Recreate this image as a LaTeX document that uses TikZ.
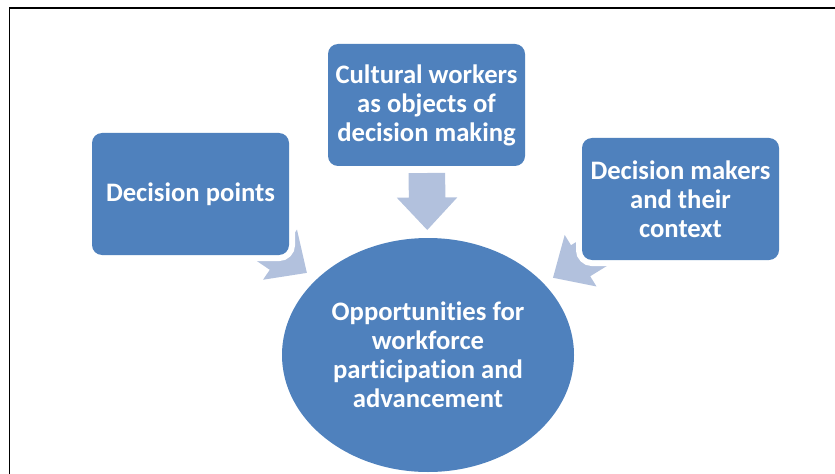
\documentclass[tikz,border=0pt]{standalone}
\usepackage{fontspec}
\setmainfont{Carlito}[Ligatures=NoCommon,RawFeature={-calt}]
\usepackage{tikz}
\usetikzlibrary{shapes.geometric,shapes.arrows,backgrounds}
\definecolor{Tile}{HTML}{4F81BD}
\definecolor{Pale}{HTML}{B2C1DD}
\definecolor{Ink}{HTML}{000000}
\tikzset{
  label font/.style={font=\fontsize{20}{21.75}\selectfont\bfseries, text=white, align=center},
  tile/.style={rectangle, rounded corners=7.5pt, fill=Tile,
    preaction={draw=white, line width=9pt},
    minimum width=147.75pt, minimum height=91.5pt, inner sep=0pt, label font},
  hub/.style={ellipse, fill=Tile, minimum width=219pt, minimum height=175.5pt,
    inner sep=0pt, label font},
  push/.style={single arrow, fill=Pale, single arrow tip angle=86,
    single arrow head extend=9pt, inner xsep=0pt, inner ysep=13.5pt,
    minimum height=42.75pt, minimum width=0pt, outer sep=0pt,
    anchor=tip, sloped, allow upside down}
}
\begin{document}
\begin{tikzpicture}[x=0.75pt,y=-0.75pt]
  \useasboundingbox (0,0) rectangle (835,474);
  \draw[Ink, line width=1.1pt] (9.5,474) -- (9.5,8) -- (835,8);
  \node[tile] (dp) at (190.5,194) {Decision points};
  \node[tile] (cw) at (426.5,105) {Cultural workers\\as objects of\\decision making};
  \node[tile] (dm) at (680.5,199) {Decision makers\\and their\\context};
  \node[hub] (opp) at (428,355) {Opportunities for\\workforce\\participation and\\advancement};
  % block arrows sit under the tiles
  \begin{scope}[on background layer]
    \path (dp.center) -- node[push, pos=0.49] (dpArrow) {} (opp.center);
    \path (cw.center) -- node[push, pos=0.5] (cwArrow) {} (opp.center);
    \path (dm.center) -- node[push, pos=0.505] (dmArrow) {} (opp.center);
  \end{scope}
\end{tikzpicture}
\end{document}
